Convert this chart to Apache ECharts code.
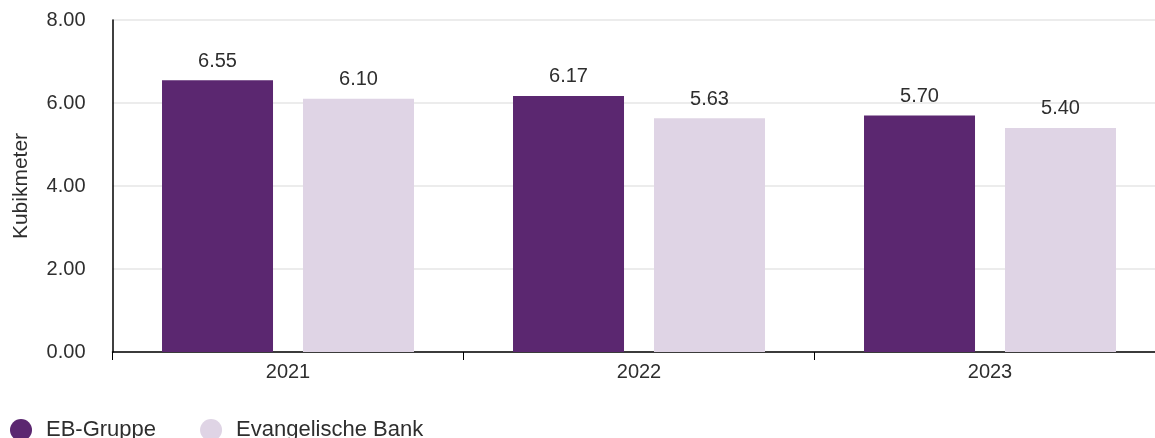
<!DOCTYPE html>
<html>
<head>
<meta charset="utf-8">
<script src="https://cdn.jsdelivr.net/npm/echarts@6/dist/echarts.min.js"></script>
<style>
  html, body { margin: 0; padding: 0; background: #ffffff; }
  #chart { width: 1155px; height: 438px; }
</style>
</head>
<body>
<div id="chart"></div>
<script>
// Wasserverbrauch je Mitarbeiter (Kubikmeter)
const years = ['2021', '2022', '2023'];
const ebGruppe = [6.55, 6.17, 5.70];
const evangelischeBank = [6.10, 5.63, 5.40];
const seriesNames = ['EB-Gruppe', 'Evangelische Bank'];
const yTicks = [0, 2, 4, 6, 8];

const FONT = '"Liberation Sans", Arial, Helvetica, sans-serif';
const textColor = '#2e2e2e';

const chart = echarts.init(document.getElementById('chart'), null, { renderer: 'canvas' });

const labelStyle = {
  show: true,
  position: 'top',
  distance: 9,
  color: textColor,
  fontFamily: FONT,
  fontSize: 20,
  formatter: p => p.value.toFixed(2)
};

chart.setOption({
  animation: false,
  backgroundColor: '#ffffff',
  grid: {
    left: 112.5, right: -10.5, top: 20, bottom: 86,
    containLabel: false,
    outerBoundsMode: 'none'
  },
  legend: {
    left: 5,
    top: 414,
    icon: 'circle',
    itemWidth: 40,
    itemHeight: 22,
    itemGap: 44,
    textStyle: { color: textColor, fontFamily: FONT, fontSize: 22 },
    data: seriesNames
  },
  xAxis: {
    type: 'category',
    data: years,
    axisLine: { show: true, lineStyle: { color: '#000000', width: 1.5 } },
    axisTick: { show: true, length: 8, lineStyle: { color: '#000000' } },
    axisLabel: { color: textColor, fontFamily: FONT, fontSize: 20, margin: 10 },
    splitLine: { show: false }
  },
  yAxis: {
    type: 'value',
    min: yTicks[0],
    max: yTicks[yTicks.length - 1],
    interval: yTicks[1] - yTicks[0],
    name: 'Kubikmeter',
    nameLocation: 'middle',
    nameGap: 81,
    nameRotate: 90,
    nameTextStyle: { color: textColor, fontFamily: FONT, fontSize: 21 },
    axisLine: { show: true, lineStyle: { color: '#000000', width: 1.5 } },
    axisTick: { show: false },
    axisLabel: {
      color: textColor,
      fontFamily: FONT,
      fontSize: 20,
      margin: 27,
      formatter: v => v.toFixed(2)
    },
    splitLine: { show: true, lineStyle: { color: '#e6e6e6', width: 1.5 } }
  },
  series: [
    {
      name: seriesNames[0],
      type: 'bar',
      data: ebGruppe,
      barWidth: 111,
      barGap: '27%',
      itemStyle: { color: '#5b2770' },
      label: labelStyle
    },
    {
      name: seriesNames[1],
      type: 'bar',
      data: evangelischeBank,
      barWidth: 111,
      barGap: '27%',
      itemStyle: { color: '#dfd4e5' },
      label: labelStyle
    }
  ]
});
</script>
</body>
</html>
